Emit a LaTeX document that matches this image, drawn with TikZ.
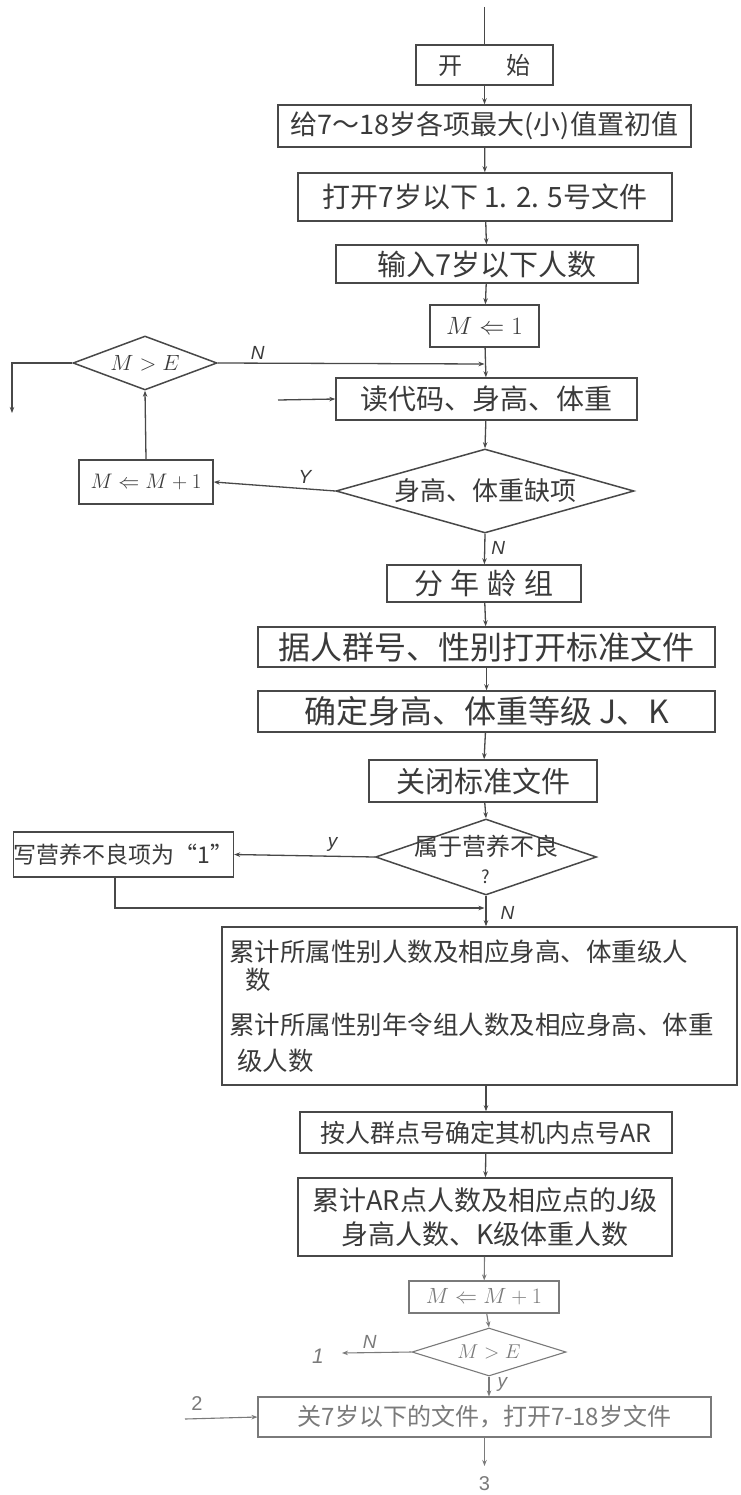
\RequirePackage{fix-cm}
\documentclass[tikz,border=0pt]{standalone}
\usepackage{fontspec}
\newfontfamily\cjk{Noto Sans CJK SC}
\newfontfamily\labfont{Liberation Sans}
\usetikzlibrary{shapes.geometric,arrows.meta}
\definecolor{ink}{HTML}{3A3A3A}
\definecolor{lc}{HTML}{484848}
\definecolor{faint}{HTML}{7A7A7A}
\begin{document}
\begin{tikzpicture}[x=1pt,y=-1pt,
  box/.style={draw=lc,line width=1.5pt,rectangle,inner sep=0pt,text=ink},
  fbox/.style={box,draw=faint,line width=1.1pt,text=faint},
  dia/.style={draw=lc,line width=1.5pt,diamond,inner sep=0pt},
  fdia/.style={dia,draw=faint,line width=1.1pt},
  conn/.style={draw=lc,line width=1.3pt},
  fconn/.style={draw=faint,line width=1.1pt},
  arr/.style={conn,-{Stealth[length=6pt,width=4.5pt]}},
  farr/.style={fconn,-{Stealth[length=6pt,width=4.5pt]}},
  lab/.style={text=ink,font=\labfont\itshape\fontsize{19}{21}\selectfont,inner sep=0pt},
  flab/.style={lab,text=faint}
]
\useasboundingbox (0,0) rectangle (740,1495);
\fill[white] (0,0) rectangle (740,1495);

% ---- nodes ----
\node[box,font=\cjk\fontsize{24}{26}\selectfont,minimum width=137pt,minimum height=40pt] (start) at (484.5,65)
  {开\hspace{44pt}始};
\node[box,font=\cjk\fontsize{27}{29}\selectfont,minimum width=413pt,minimum height=42pt] (init) at (484.5,126)
  {给7～18岁各项最大(小)值置初值};
\node[box,font=\cjk\fontsize{28}{30}\selectfont,minimum width=374pt,minimum height=48pt] (open) at (485,197)
  {打开7岁以下 1. 2. 5号文件};
\node[box,font=\cjk\fontsize{29}{31}\selectfont,minimum width=302pt,minimum height=38pt] (input) at (487,264)
  {输入7岁以下人数};
\node[box,font=\fontsize{25}{27}\selectfont,minimum width=109pt,minimum height=42pt] (m1) at (484.5,326)
  {$M\Leftarrow 1$};
\node[dia,minimum width=144pt,minimum height=54pt,
  label={[text=ink,font=\fontsize{22}{24}\selectfont]center:$M>E$}] (dec1) at (145,363) {};
\node[box,font=\cjk\fontsize{28}{30}\selectfont,minimum width=301pt,minimum height=42pt] (read) at (486.5,399)
  {读代码、身高、体重};
\node[dia,minimum width=298pt,minimum height=84pt,
  label={[text=ink,font=\cjk\fontsize{26}{28}\selectfont]center:身高、体重缺项}] (dec2) at (485,491) {};
\node[box,font=\fontsize{21}{23}\selectfont,minimum width=134pt,minimum height=44pt] (mplus) at (146,482)
  {$M\Leftarrow M+1$};
\node[box,font=\cjk\fontsize{29}{31}\selectfont,minimum width=194pt,minimum height=37pt] (age) at (484,583.5)
  {分\hspace{8pt}年\hspace{8pt}龄\hspace{8pt}组};
\node[box,font=\cjk\fontsize{32}{34}\selectfont,minimum width=457pt,minimum height=40pt] (std) at (486.5,647)
  {据人群号、性别打开标准文件};
\node[box,font=\cjk\fontsize{32}{34}\selectfont,minimum width=457pt,minimum height=41pt] (grade) at (486.5,711.5)
  {确定身高、体重等级 J、K};
\node[box,font=\cjk\fontsize{29}{31}\selectfont,minimum width=228pt,minimum height=42pt] (close) at (483,781)
  {关闭标准文件};
\node[dia,minimum width=221pt,minimum height=76pt,
  label={[text=ink,font=\cjk\fontsize{24}{26}\selectfont,align=center,yshift=-2pt]center:属于营养不良\\[2pt]{\fontsize{18}{18}\selectfont ?}}] (dec3) at (486,857) {};
\node[box,font=\cjk\fontsize{23}{25}\selectfont,minimum width=211pt,minimum height=45pt] (malnut) at (123.5,854.5)
  {写营养不良项为“1”};
\node[box,font=\cjk\fontsize{25.5}{34}\selectfont,minimum width=515pt,minimum height=158pt,align=left,
  text width=505pt] (big) at (479.5,1006)
  {\hspace*{2pt}累计所属性别人数及相应身高、体重级人\\[-6pt]
   \hspace*{18pt}数\\[11pt]
   \hspace*{2pt}累计所属性别年令组人数及相应身高、体重\\[2pt]
   \hspace*{10pt}级人数};
\node[box,font=\cjk\fontsize{25}{27}\selectfont,minimum width=372pt,minimum height=41pt] (ar) at (486,1132.5)
  {按人群点号确定其机内点号AR};
\node[box,font=\cjk\fontsize{27}{34}\selectfont,minimum width=374pt,minimum height=78pt,align=center] (acc) at (485,1217)
  {累计AR点人数及相应点的J级\\身高人数、K级体重人数};
\node[fbox,font=\fontsize{22}{24}\selectfont,minimum width=150pt,minimum height=32pt] (mplus2) at (484,1297)
  {$M\Leftarrow M+1$};
\node[fdia,minimum width=154pt,minimum height=48pt,
  label={[text=faint,font=\fontsize{20}{22}\selectfont]center:$M>E$}] (dec4) at (489,1352) {};
\node[fbox,font=\cjk\fontsize{24}{26}\selectfont,minimum width=453pt,minimum height=40pt] (final) at (484.5,1417)
  {关7岁以下的文件，打开7-18岁文件};

% ---- free ends ----
\coordinate (top) at (484.5,7);
\coordinate (j1) at (484.5,364);
\coordinate (lft1) at (12,363);
\coordinate (lft2) at (12,413);
\coordinate (in1) at (278,400);
\coordinate (r1) at (115,908);
\coordinate (j2) at (484.5,908);
\coordinate (out1) at (342,1353);
\coordinate (in2) at (185,1419);
\coordinate (bot) at (484.5,1466);

% ---- connectors ----
\draw[conn] (top) -- (start.north);
\draw[arr] (start) -- (init);
\draw[arr] (init) -- (open);
\draw[arr] (open) -- (input);
\draw[arr] (input) -- (m1);
\draw[arr] (m1) -- (read);
\draw[arr] (read) -- (dec2.north);
\draw[arr] (dec2.south) -- node[lab,right=6pt,pos=0.45]{N} (age);
\draw[arr] (age) -- (std);
\draw[arr] (std) -- (grade);
\draw[arr] (grade) -- (close);
\draw[arr] (close) -- (dec3.north);
\draw[arr] (dec3.south) -- node[lab,right=14pt,pos=0.55]{N} (big.north -| dec3.south);
\draw[arr] (big.south -| ar.north) -- (ar);
\draw[arr] (ar) -- (acc);
\draw[farr] (acc) -- (mplus2);
\draw[farr] (mplus2) -- (dec4.north);
\draw[farr] (dec4.south) -- node[flab,right=8pt,pos=0.4]{y} (final.north -| dec4.south);
\draw[farr] (final.south -| bot) -- (bot);
\node[flab,font=\labfont\fontsize{20}{22}\selectfont] (lab3) at (484.5,1484) {3};

\draw[arr] (dec2.west) -- node[lab,above=5pt,pos=0.25]{Y} (mplus.east);
\draw[arr] (mplus.north) -- (dec1.south);
\draw[arr] (dec1.east) -- node[lab,above=3pt,pos=0.15]{N} (j1);
\draw[arr] (dec1.west) -- (lft1) -- (lft2);
\draw[arr] (in1) -- (read.west);
\draw[arr] (dec3.west) -- node[lab,above=4pt,pos=0.3]{y} (malnut.east);
\draw[arr] (malnut.south -| r1) -- (r1) -- (j2);
\draw[farr] (dec4.west) -- node[flab,above=4pt,pos=0.6]{N} (out1);
\node[flab,font=\labfont\itshape\fontsize{21}{23}\selectfont] (lab1) at (318,1356) {1};
\draw[farr] (in2) -- (final.west);
\node[flab,font=\labfont\fontsize{20}{22}\selectfont] (lab2) at (197,1403) {2};
\end{tikzpicture}
\end{document}
